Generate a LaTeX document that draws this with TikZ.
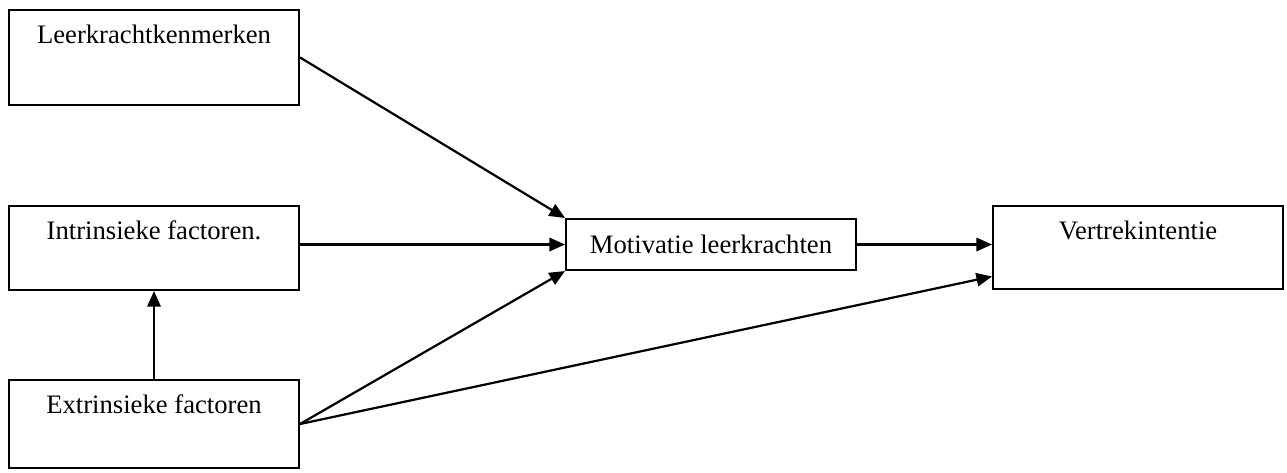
\documentclass[tikz,border=0pt]{standalone}
\usepackage{fontspec}
\setmainfont{Liberation Serif}
\usetikzlibrary{arrows.meta}
\begin{document}
\begin{tikzpicture}[x=0.45pt, y=-0.45pt, font=\fontsize{12}{14}\selectfont,
  topbox/.style={draw, line width=0.9pt, minimum width=130.5pt, inner sep=0pt, text height=15pt, text depth=#1, anchor=north},
  midbox/.style={draw, line width=0.9pt, minimum width=130.5pt, minimum height=23pt, inner sep=0pt},
  link/.style={line width=1pt, -{Triangle[length=7pt,width=6pt]}}]
  \useasboundingbox (0,0) rectangle (1287,472);
  % Boxes on the left
  \node[topbox=27.7pt] (kenm) at (154,9) {Leerkrachtkenmerken};
  \node[topbox=22.8pt] (intr) at (154,205) {Intrinsieke factoren.};
  \node[topbox=24.6pt] (extr) at (154,379) {Extrinsieke factoren};
  % Middle and right
  \node[midbox] (motiv) at (711,244.5) {Motivatie leerkrachten};
  \node[topbox=22.4pt] (vertr) at (1138,205) {Vertrekintentie};
  % Arrows
  \draw[link] (kenm.east) -- (motiv.north west);
  \draw[link] (intr.east |- motiv.west) -- (motiv.west);
  \draw[link] (extr.east) -- (motiv.south west);
  \draw[link] (extr.east) -- ([yshift=-13pt]vertr.west);
  \draw[link] (motiv.east) -- (motiv.east -| vertr.west);
  \draw[link] (extr.north) -- (intr.south);
\end{tikzpicture}
\end{document}
